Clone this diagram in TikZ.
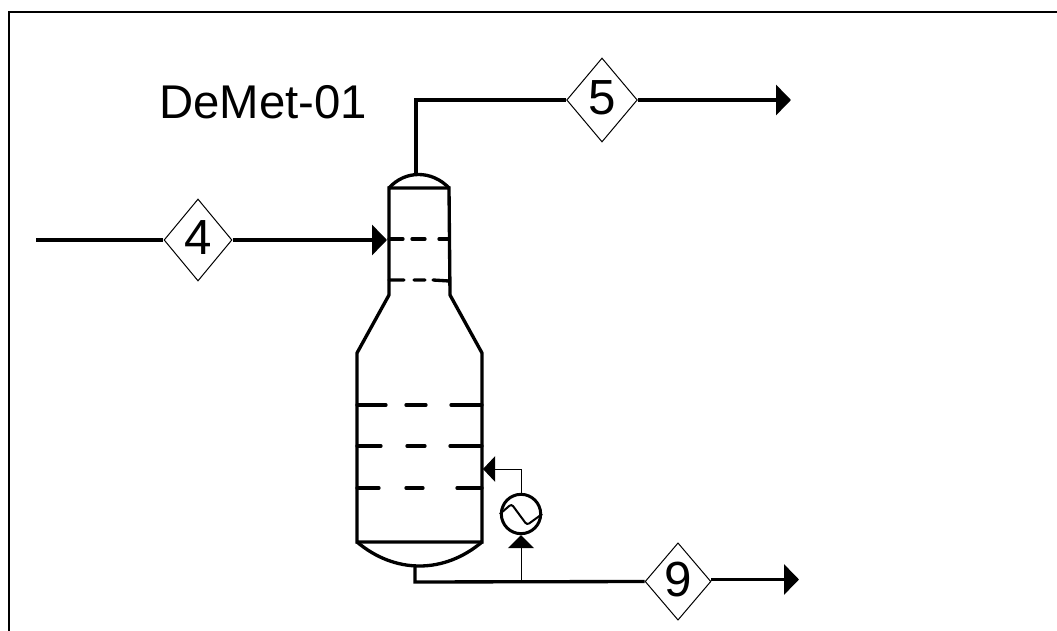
\documentclass[tikz,border=0pt]{standalone}
\usepackage{fontspec}
\setmainfont{Liberation Sans}
\usetikzlibrary{shapes.geometric,arrows.meta}

\tikzset{
  stream/.style={line width=2.5pt},
  vessel/.style={line width=2.5pt},
  tray/.style={line width=2.5pt,line cap=round},
  utility/.style={line width=.75pt},
  streamtip/.style={-{Triangle[length=11.25pt,width=22.5pt]}},
  streamtag/.style={diamond,draw,line width=.75pt,inner sep=0pt,fill=white,text depth=3pt,
    minimum width=51pt,minimum height=61.5pt,font=\fontsize{37}{37}\selectfont},
}

\begin{document}
\begin{tikzpicture}[x=.75pt,y=-.75pt]
  \useasboundingbox (0,0) rectangle (1057,631);
  % frame
  \draw[line width=1.7pt] (9,631) -- (9,12) -- (1057,12);
  \node[anchor=base,font=\fontsize{35.5}{36}\selectfont] (title) at (263,119) {DeMet-01};

  % column
  \draw[vessel] (389,188) -- (389,295) -- (357,353) -- (357,542) -- (482,542)
    -- (482,353) -- (450,295) -- (449,188) -- cycle;
  \draw[vessel] (389,188) .. controls (405,170) and (432,170) .. (449,188);
  \draw[vessel] (357,542) .. controls (395,574) and (444,574) .. (482,542);

  % trays
  \draw[tray] (389,239) -- (403,239) (412,239) -- (425,239) (439,239) -- (449,239);
  \draw[tray] (389,280) -- (404,280) (414,280) -- (425,280) (433,280) -- (449,281);
  \draw[tray] (357,405) -- (386,405) (406,405) -- (426,405) (451,405) -- (482,405);
  \draw[tray] (357,446) -- (381,446) (407,446) -- (425,446) (450,446) -- (482,446);
  \draw[tray] (357,488) -- (379,488) (406,488) -- (423,488) (457,488) -- (482,488);

  % streams
  \node[streamtag] (s4) at (198,240) {4};
  \node[streamtag,minimum width=53pt,minimum height=63pt] (s5) at (602,100) {5};
  \node[streamtag,minimum width=49pt,minimum height=58pt] (s9) at (678,581.5) {9};

  \coordinate (feedstart) at (36,240);
  \coordinate (feedin) at (387,240);
  \coordinate (topout) at (416,175);
  \coordinate (topend) at (791,100);
  \coordinate (botout) at (415,566);
  \coordinate (botcorner) at (415,582);
  \coordinate (botend) at (799,579.5);

  \draw[stream] (feedstart) -- (s4);
  \draw[stream,streamtip] (s4) -- (feedin);
  \draw[stream] (topout) |- (s5);
  \draw[stream,streamtip] (s5) -- (topend);
  \draw[stream] (botout) -- (botcorner) -- (s9.west);
  \draw[stream,streamtip] (s9.east |- botend) -- (botend);

  % reboiler
  \node[circle,draw,line width=2.25pt,fill=white,inner sep=0pt,minimum size=29.5pt] (reb) at (521,514) {};
  \coordinate (rebjoin) at (521,581);
  \coordinate (rebin) at (483,469);
  \draw[utility,-{Triangle[length=9.75pt,width=19.5pt]}] (rebjoin) -- (reb.south);
  \draw[utility,-{Triangle[length=9pt,width=19pt]}] (reb.north) |- (rebin);
  \draw[line width=1.5pt,rounded corners=2pt] (reb.west) -- (511.5,504) -- (527,525) -- (reb.east);
\end{tikzpicture}
\end{document}
